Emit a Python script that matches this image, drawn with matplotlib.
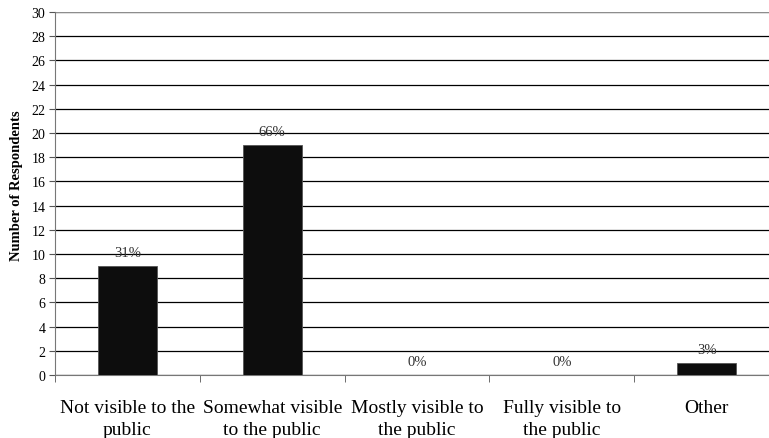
import matplotlib
matplotlib.use("Agg")
import matplotlib.pyplot as plt
import numpy as np

categories = ["Not visible to the\npublic", "Somewhat visible\nto the public",
              "Mostly visible to\nthe public", "Fully visible to\nthe public", "Other"]
values = [9, 19, 0, 0, 1]
pct_labels = ["31%", "66%", "0%", "0%", "3%"]
y_ticks = list(range(0, 31, 2))

plt.rcParams['font.family'] = ['Liberation Serif', 'DejaVu Serif']

W, H = 769, 439
fig = plt.figure(figsize=(W/100, H/100), dpi=100)
ax = fig.add_axes([55/W, 1-376/H, (779-55)/W, (376-13)/H])

x = np.arange(len(categories))
ax.bar(x, values, width=0.41, color='#0d0d0d', edgecolor='#555555', linewidth=0.6, zorder=3)
for xi, v, lab in zip(x, values, pct_labels):
    ax.text(xi, v + 0.55, lab, ha='center', va='bottom', fontsize=10.5, color='#333333', zorder=4)

ax.set_xlim(-0.5, len(categories)-0.5)
ax.set_ylim(0, 30)
ax.set_yticks(y_ticks)
ax.set_yticklabels([str(t) for t in y_ticks], fontsize=10)
ax.yaxis.grid(True, color='black', linewidth=0.9, zorder=0)
ax.set_axisbelow(True)

ax.set_xticks(x)
ax.set_xticklabels(categories, fontsize=14, linespacing=1.4)
ax.tick_params(axis='x', length=0, pad=17)
ax.set_xticks(np.arange(len(categories)+1) - 0.5, minor=True)
ax.tick_params(axis='x', which='minor', length=5, direction='out', color='#555555')
ax.tick_params(axis='y', length=4, direction='out', color='#555555', pad=3)

for s in ['top', 'right']:
    ax.spines[s].set_visible(False)
ax.spines['left'].set_color('#777777')
ax.spines['bottom'].set_color('#777777')
ax.axhline(30, color='#aaaaaa', linewidth=1.2, zorder=1)

ax.set_ylabel("Number of Respondents", fontsize=10.5, fontweight='bold')
ax.yaxis.set_label_coords(-32/724, 0.525)

fig.savefig("out.png", dpi=100)
